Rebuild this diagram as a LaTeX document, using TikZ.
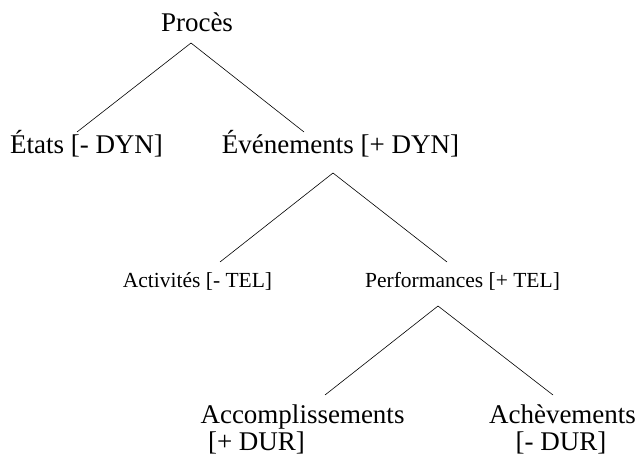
\documentclass[tikz,border=0pt]{standalone}
\usepackage{fontspec}
\setmainfont{Liberation Serif}
\begin{document}
\begin{tikzpicture}[x=1pt,y=-1pt,
  big/.style={anchor=base,inner sep=0pt,font=\fontsize{27}{30}\selectfont},
  mid/.style={anchor=base,inner sep=0pt,font=\fontsize{21.5}{24}\selectfont},
  branch/.style={line width=0.6pt,black}]
\useasboundingbox (0,0) rectangle (637,457);
% level 0
\node[big] (proces) at (197,32) {Procès};
% level 1
\node[big] (etats) at (86.5,154) {États [- DYN]};
\node[big] (evenements) at (340.5,154) {Événements [+ DYN]};
% level 2
\node[mid] (activites) at (197.5,287) {Activités [- TEL]};
\node[mid] (performances) at (462.5,287) {Performances [+ TEL]};
% level 3
\node[big] (accomp) at (302.5,423) {Accomplissements};
\node[big] (accompdur) at (256.5,450) {[+ DUR]};
\node[big] (achev) at (562.5,423) {Achèvements};
\node[big] (achevdur) at (561,450) {[- DUR]};
% connector end points
\coordinate (a0) at (191,43);
\coordinate (e1) at (77,132);
\coordinate (e2) at (304,132);
\coordinate (a1) at (333,173);
\coordinate (e3) at (220,262);
\coordinate (e4) at (447,262);
\coordinate (a2) at (438,306);
\coordinate (e5) at (325,395);
\coordinate (e6) at (553,395);
\draw[branch] (e1) -- (a0) -- (e2);
\draw[branch] (e3) -- (a1) -- (e4);
\draw[branch] (e5) -- (a2) -- (e6);
\end{tikzpicture}
\end{document}
